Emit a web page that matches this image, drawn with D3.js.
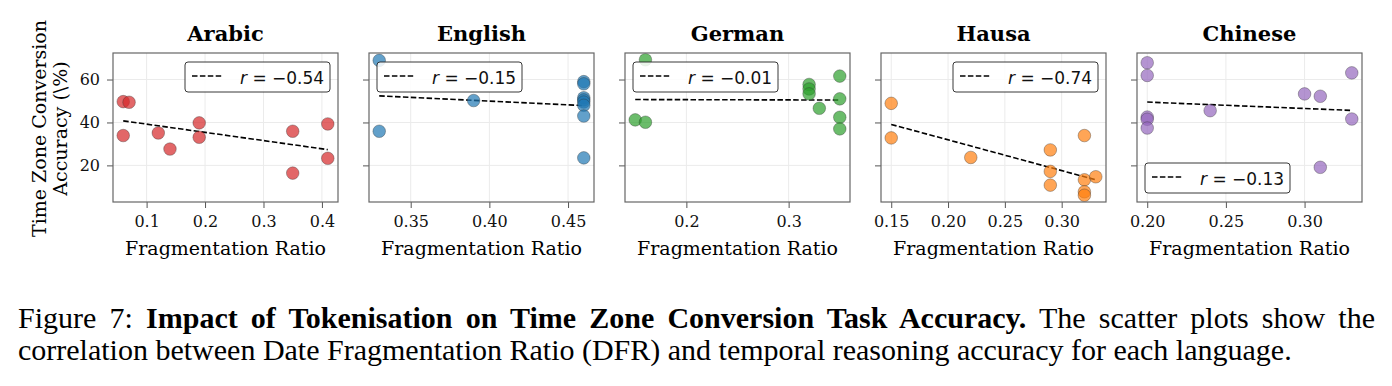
<!DOCTYPE html>
<html>
<head>
<meta charset="utf-8">
<script src="https://cdn.jsdelivr.net/npm/d3@7"></script>
<style>
  body { margin: 0; background: #fff; }
  svg { display: block; }
</style>
</head>
<body>
<div class="svg-container"></div>
<script>
// Data
var languages = ["Arabic", "English", "German", "Hausa", "Chinese"];
var colors = ["#d62728", "#1f77b4", "#2ca02c", "#ff7f0e", "#9467bd"];
var rLabels = ["\u22120.54", "\u22120.15", "\u22120.01", "\u22120.74", "\u22120.13"];
var legendLoc = ["upper right", "upper left", "upper left", "upper right", "lower left"];

var arabicX = [0.06, 0.07, 0.06, 0.12, 0.14, 0.19, 0.19, 0.35, 0.35, 0.41, 0.41];
var arabicY = [49.7, 49.4, 33.9, 35.1, 27.6, 39.8, 33.1, 35.9, 16.4, 39.3, 23.3];
var englishX = [0.33, 0.33, 0.39, 0.46, 0.46, 0.46, 0.46, 0.46, 0.46, 0.46, 0.46];
var englishY = [68.9, 35.9, 50.2, 59.0, 58.0, 51.5, 50.5, 49.5, 48.0, 43.0, 23.5];
var germanX = [0.16, 0.15, 0.16, 0.32, 0.32, 0.32, 0.33, 0.35, 0.35, 0.35, 0.35];
var germanY = [69.2, 41.2, 40.1, 57.7, 55.6, 53.3, 46.6, 61.6, 51.0, 42.4, 37.0];
var hausaX = [0.15, 0.15, 0.22, 0.29, 0.29, 0.29, 0.32, 0.32, 0.32, 0.32, 0.33];
var hausaY = [48.9, 32.8, 23.7, 27.2, 17.2, 10.8, 33.9, 13.3, 7.7, 6.1, 14.7];
var chineseX = [0.20, 0.20, 0.20, 0.20, 0.20, 0.24, 0.30, 0.31, 0.31, 0.33, 0.33];
var chineseY = [67.8, 61.9, 42.5, 41.5, 37.4, 45.5, 53.3, 52.2, 19.1, 63.1, 41.6];

var xTicks = [[0.1, 0.2, 0.3, 0.4], [0.35, 0.40, 0.45], [0.2, 0.3], [0.15, 0.20, 0.25, 0.30], [0.20, 0.25, 0.30]];
var xTickDigits = [1, 2, 1, 2, 2];
var yTicks = [20, 40, 60];

var seriesX = [arabicX, englishX, germanX, hausaX, chineseX];
var seriesY = [arabicY, englishY, germanY, hausaY, chineseY];

var W = 1392, H = 386;
var panelW = 225, panelH = 149, top0 = 53, left0 = 113, step = 256;

var svg = d3.select(".svg-container").append("svg")
    .attr("width", W)
    .attr("height", H);

// shared y scale, padded 5% like matplotlib
var allY = d3.merge(seriesY);
var yMin = d3.min(allY), yMax = d3.max(allY), yPad = (yMax - yMin) * 0.05;
var yScale = d3.scaleLinear().domain([yMin - yPad, yMax + yPad]).range([panelH, 0]);

function fit(xs, ys) {
    var mx = d3.mean(xs), my = d3.mean(ys), sxy = 0, sxx = 0;
    for (var i = 0; i < xs.length; i++) {
        sxy += (xs[i] - mx) * (ys[i] - my);
        sxx += (xs[i] - mx) * (xs[i] - mx);
    }
    var b = sxy / sxx;
    return function(x) { return my + b * (x - mx); };
}

languages.forEach(function(lang, p) {
    var xs = seriesX[p], ys = seriesY[p];
    var pts = xs.map(function(x, i) { return {x: x, y: ys[i]}; });
    var xMin = d3.min(xs), xMax = d3.max(xs), xPad = (xMax - xMin) * 0.05;
    var xScale = d3.scaleLinear().domain([xMin - xPad, xMax + xPad]).range([0, panelW]);

    var g = svg.append("g").attr("transform", "translate(" + (left0 + p * step) + "," + top0 + ")");

    // grid
    g.append("g").selectAll("line").data(xTicks[p]).enter().append("line")
        .attr("x1", function(d) { return xScale(d); }).attr("x2", function(d) { return xScale(d); })
        .attr("y1", 0).attr("y2", panelH)
        .attr("stroke", "#ebebeb").attr("stroke-width", 1);
    g.append("g").selectAll("line").data(yTicks).enter().append("line")
        .attr("y1", function(d) { return yScale(d); }).attr("y2", function(d) { return yScale(d); })
        .attr("x1", 0).attr("x2", panelW)
        .attr("stroke", "#ebebeb").attr("stroke-width", 1);

    // axes
    var xaxis = d3.axisBottom(xScale).tickValues(xTicks[p])
        .tickFormat(d3.format("." + xTickDigits[p] + "f"))
        .tickSize(6).tickPadding(8);
    var gx = g.append("g").attr("transform", "translate(0," + panelH + ")").call(xaxis);
    var yaxis = d3.axisLeft(yScale).tickValues(yTicks).tickSize(6).tickPadding(7);
    if (p > 0) yaxis.tickFormat("");
    var gy = g.append("g").call(yaxis);
    [gx, gy].forEach(function(a) {
        a.select(".domain").remove();
        a.selectAll(".tick line").attr("stroke", "#555").attr("stroke-width", 1);
        a.selectAll("text").attr("font-family", "DejaVu Serif").attr("font-size", 16).attr("fill", "#111");
    });

    // regression line
    var f = fit(xs, ys);
    g.append("line")
        .attr("x1", xScale(xMin)).attr("y1", yScale(f(xMin)))
        .attr("x2", xScale(xMax)).attr("y2", yScale(f(xMax)))
        .attr("stroke", "#000").attr("stroke-width", 1.6)
        .attr("stroke-dasharray", "5.5,2.4");

    // points
    g.append("g").selectAll("circle").data(pts).enter().append("circle")
        .attr("cx", function(d) { return xScale(d.x); })
        .attr("cy", function(d) { return yScale(d.y); })
        .attr("r", 6.3)
        .attr("fill", colors[p]).attr("fill-opacity", 0.7)
        .attr("stroke", "#333").attr("stroke-opacity", 0.6).attr("stroke-width", 0.6);

    // frame
    g.append("rect").attr("width", panelW).attr("height", panelH)
        .attr("fill", "none").attr("stroke", "#666").attr("stroke-width", 1.2);

    // legend
    var lw = 145, lh = 30;
    var lx = legendLoc[p].indexOf("right") >= 0 ? panelW - 8 - lw : 8;
    var ly = legendLoc[p].indexOf("upper") >= 0 ? 9 : panelH - 9 - lh;
    var lg = g.append("g").attr("transform", "translate(" + lx + "," + ly + ")");
    lg.append("rect").attr("width", lw).attr("height", lh).attr("rx", 3)
        .attr("fill", "#fff").attr("fill-opacity", 0.85)
        .attr("stroke", "#222").attr("stroke-width", 0.9);
    lg.append("line").attr("x1", 7).attr("x2", 37).attr("y1", 14).attr("y2", 14)
        .attr("stroke", "#000").attr("stroke-width", 1.6).attr("stroke-dasharray", "5.5,2.4");
    var lt = lg.append("text").attr("x", 55).attr("y", 22)
        .attr("font-family", "DejaVu Sans").attr("font-size", 17).attr("fill", "#111");
    lt.append("tspan").attr("font-style", "italic").text("r");
    lt.append("tspan").text(" = " + rLabels[p]);

    // title
    g.append("text").attr("x", panelW / 2).attr("y", -12)
        .attr("text-anchor", "middle")
        .attr("font-family", "DejaVu Serif").attr("font-weight", "bold").attr("font-size", 21)
        .text(lang);

    // x label
    g.append("text").attr("x", panelW / 2).attr("y", panelH + 53)
        .attr("text-anchor", "middle")
        .attr("font-family", "DejaVu Serif").attr("font-size", 19)
        .text("Fragmentation Ratio");
});

// y label
var yl = svg.append("text")
    .attr("transform", "translate(46," + (top0 + panelH / 2 + 1) + ") rotate(-90)")
    .attr("text-anchor", "middle")
    .attr("font-family", "DejaVu Serif").attr("font-size", 19);
yl.append("tspan").attr("x", 0).attr("y", 0).text("Time Zone Conversion");
yl.append("tspan").attr("x", 0).attr("y", 21).text("Accuracy (\\%)");

// caption
var cap = svg.append("g").attr("font-family", "Liberation Serif").attr("font-size", 30).attr("fill", "#000");
var line1 = cap.append("text").attr("x", 18).attr("y", 328);
line1.append("tspan").text("Figure 7: ");
line1.append("tspan").attr("font-weight", "bold").text("Impact of Tokenisation on Time Zone Conversion Task Accuracy.");
line1.append("tspan").text(" The scatter plots show the");
var natural = line1.node().getComputedTextLength();
var gaps = 15;
line1.attr("word-spacing", ((1375 - 18) - natural) / gaps);
cap.append("text").attr("x", 18).attr("y", 360)
    .text("correlation between Date Fragmentation Ratio (DFR) and temporal reasoning accuracy for each language.");
</script>
</body>
</html>
